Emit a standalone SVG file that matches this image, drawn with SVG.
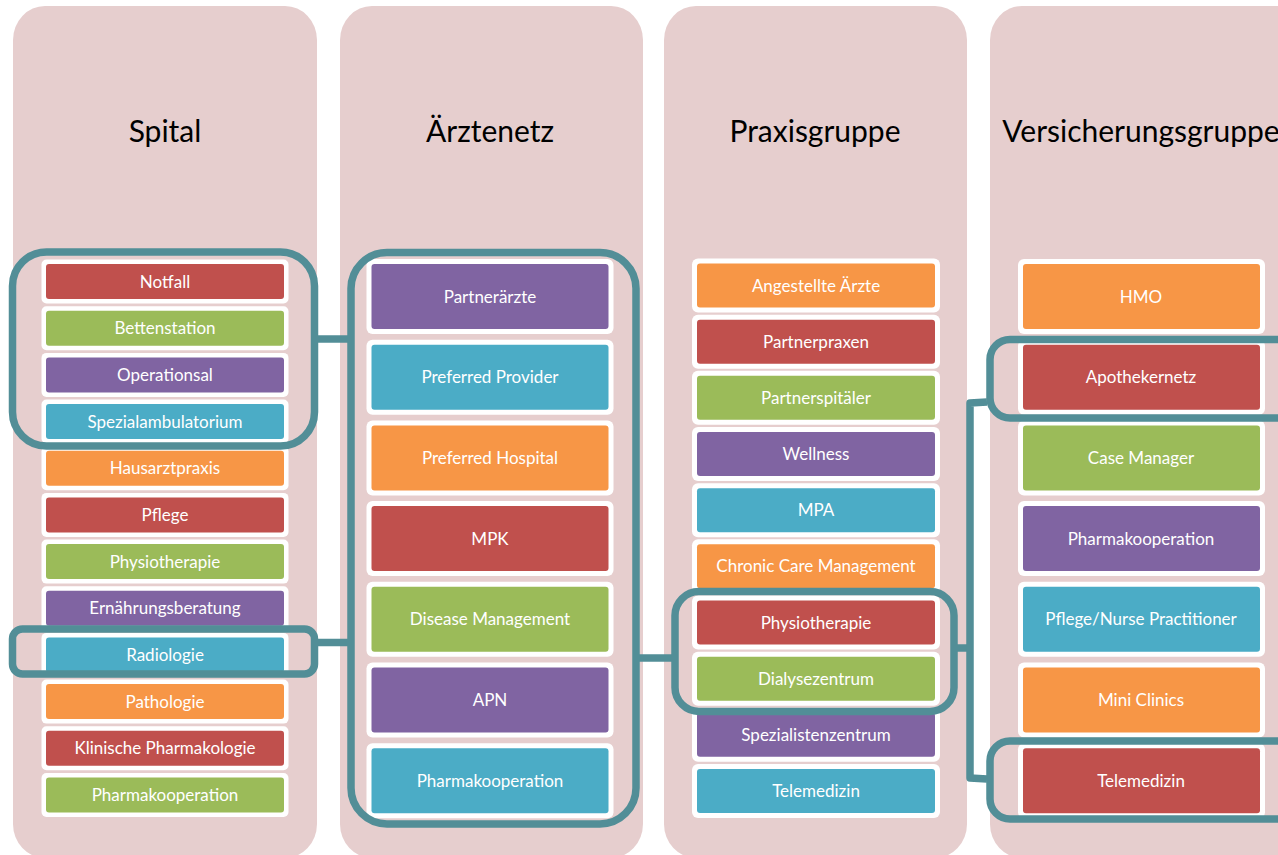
<svg xmlns="http://www.w3.org/2000/svg" width="1278" height="855" viewBox="0 0 1278 855">
<style>
.col{fill:#E6CECE}
.hd{font-family:Lato,"Liberation Sans",sans-serif;font-size:30px;fill:#000;text-anchor:middle}
.wb{fill:#FFFFFF}
.r{fill:#C0504D}.g{fill:#9BBB59}.p{fill:#8064A2}.b{fill:#4BACC6}.o{fill:#F79646}
.t{font-family:Lato,"Liberation Sans",sans-serif;font-size:17px;fill:#FFFFFF;text-anchor:middle}
.hl{fill:none;stroke:#528E97;stroke-width:7.5}
.cn{fill:none;stroke:#528E97;stroke-width:7.5;stroke-linejoin:round}
</style>
<rect width="1278" height="855" fill="#FFFFFF"/>
<g id="columns">
<rect class="col" x="13" y="6" width="304" height="852" rx="32" ry="34"/>
<rect class="col" x="340" y="6" width="303" height="852" rx="32" ry="34"/>
<rect class="col" x="664" y="6" width="303" height="852" rx="32" ry="34"/>
<rect class="col" x="990" y="6" width="330" height="852" rx="32" ry="34"/>
<text class="hd" x="165" y="142">Spital</text>
<text class="hd" x="490" y="142">Ärztenetz</text>
<text class="hd" x="815" y="142">Praxisgruppe</text>
<text class="hd" x="1141" y="142">Versicherungsgruppe</text>
</g>
<g id="spital">
<g id="s1"><rect class="wb" x="41.5" y="259.5" width="247" height="44" rx="5"/><rect class="r" x="46" y="264" width="238" height="35" rx="3"/><text class="t" x="165" y="287.5">Notfall</text></g>
<g id="s2"><rect class="wb" x="41.5" y="306.2" width="247" height="44" rx="5"/><rect class="g" x="46" y="310.7" width="238" height="35" rx="3"/><text class="t" x="165" y="334.2">Bettenstation</text></g>
<g id="s3"><rect class="wb" x="41.5" y="352.9" width="247" height="44" rx="5"/><rect class="p" x="46" y="357.4" width="238" height="35" rx="3"/><text class="t" x="165" y="380.9">Operationsal</text></g>
<g id="s4"><rect class="wb" x="41.5" y="399.5" width="247" height="44" rx="5"/><rect class="b" x="46" y="404" width="238" height="35" rx="3"/><text class="t" x="165" y="427.5">Spezialambulatorium</text></g>
<g id="s5"><rect class="wb" x="41.5" y="446.2" width="247" height="44" rx="5"/><rect class="o" x="46" y="450.7" width="238" height="35" rx="3"/><text class="t" x="165" y="474.2">Hausarztpraxis</text></g>
<g id="s6"><rect class="wb" x="41.5" y="492.9" width="247" height="44" rx="5"/><rect class="r" x="46" y="497.4" width="238" height="35" rx="3"/><text class="t" x="165" y="520.9">Pflege</text></g>
<g id="s7"><rect class="wb" x="41.5" y="539.6" width="247" height="44" rx="5"/><rect class="g" x="46" y="544.1" width="238" height="35" rx="3"/><text class="t" x="165" y="567.6">Physiotherapie</text></g>
<g id="s8"><rect class="wb" x="41.5" y="586.3" width="247" height="44" rx="5"/><rect class="p" x="46" y="590.8" width="238" height="35" rx="3"/><text class="t" x="165" y="614.3">Ernährungsberatung</text></g>
<g id="s9"><rect class="wb" x="41.5" y="632.9" width="247" height="44" rx="5"/><rect class="b" x="46" y="637.4" width="238" height="35" rx="3"/><text class="t" x="165" y="660.9">Radiologie</text></g>
<g id="s10"><rect class="wb" x="41.5" y="679.6" width="247" height="44" rx="5"/><rect class="o" x="46" y="684.1" width="238" height="35" rx="3"/><text class="t" x="165" y="707.6">Pathologie</text></g>
<g id="s11"><rect class="wb" x="41.5" y="726.3" width="247" height="44" rx="5"/><rect class="r" x="46" y="730.8" width="238" height="35" rx="3"/><text class="t" x="165" y="754.3">Klinische Pharmakologie</text></g>
<g id="s12"><rect class="wb" x="41.5" y="773" width="247" height="44" rx="5"/><rect class="g" x="46" y="777.5" width="238" height="35" rx="3"/><text class="t" x="165" y="801">Pharmakooperation</text></g>
</g>
<g id="aerztenetz">
<g id="a1"><rect class="wb" x="366.5" y="259" width="247" height="75" rx="6"/><rect class="p" x="371.5" y="264" width="237" height="65" rx="3"/><text class="t" x="490" y="302.5">Partnerärzte</text></g>
<g id="a2"><rect class="wb" x="366.5" y="339.7" width="247" height="75" rx="6"/><rect class="b" x="371.5" y="344.7" width="237" height="65" rx="3"/><text class="t" x="490" y="383.2">Preferred Provider</text></g>
<g id="a3"><rect class="wb" x="366.5" y="420.4" width="247" height="75" rx="6"/><rect class="o" x="371.5" y="425.4" width="237" height="65" rx="3"/><text class="t" x="490" y="463.9">Preferred Hospital</text></g>
<g id="a4"><rect class="wb" x="366.5" y="501.1" width="247" height="75" rx="6"/><rect class="r" x="371.5" y="506.1" width="237" height="65" rx="3"/><text class="t" x="490" y="544.6">MPK</text></g>
<g id="a5"><rect class="wb" x="366.5" y="581.8" width="247" height="75" rx="6"/><rect class="g" x="371.5" y="586.8" width="237" height="65" rx="3"/><text class="t" x="490" y="625.3">Disease Management</text></g>
<g id="a6"><rect class="wb" x="366.5" y="662.5" width="247" height="75" rx="6"/><rect class="p" x="371.5" y="667.5" width="237" height="65" rx="3"/><text class="t" x="490" y="706">APN</text></g>
<g id="a7"><rect class="wb" x="366.5" y="743.2" width="247" height="75" rx="6"/><rect class="b" x="371.5" y="748.2" width="237" height="65" rx="3"/><text class="t" x="490" y="786.7">Pharmakooperation</text></g>
</g>
<g id="praxisgruppe">
<g id="p1"><rect class="wb" x="692" y="258.5" width="248" height="54" rx="6"/><rect class="o" x="697" y="263.5" width="238" height="44" rx="3"/><text class="t" x="816" y="291.5">Angestellte Ärzte</text></g>
<g id="p2"><rect class="wb" x="692" y="314.7" width="248" height="54" rx="6"/><rect class="r" x="697" y="319.7" width="238" height="44" rx="3"/><text class="t" x="816" y="347.7">Partnerpraxen</text></g>
<g id="p3"><rect class="wb" x="692" y="370.8" width="248" height="54" rx="6"/><rect class="g" x="697" y="375.8" width="238" height="44" rx="3"/><text class="t" x="816" y="403.8">Partnerspitäler</text></g>
<g id="p4"><rect class="wb" x="692" y="427" width="248" height="54" rx="6"/><rect class="p" x="697" y="432" width="238" height="44" rx="3"/><text class="t" x="816" y="460">Wellness</text></g>
<g id="p5"><rect class="wb" x="692" y="483.2" width="248" height="54" rx="6"/><rect class="b" x="697" y="488.2" width="238" height="44" rx="3"/><text class="t" x="816" y="516.2">MPA</text></g>
<g id="p6"><rect class="wb" x="692" y="539.3" width="248" height="54" rx="6"/><rect class="o" x="697" y="544.3" width="238" height="44" rx="3"/><text class="t" x="816" y="572.3">Chronic Care Management</text></g>
<g id="p7"><rect class="wb" x="692" y="595.5" width="248" height="54" rx="6"/><rect class="r" x="697" y="600.5" width="238" height="44" rx="3"/><text class="t" x="816" y="628.5">Physiotherapie</text></g>
<g id="p8"><rect class="wb" x="692" y="651.7" width="248" height="54" rx="6"/><rect class="g" x="697" y="656.7" width="238" height="44" rx="3"/><text class="t" x="816" y="684.7">Dialysezentrum</text></g>
<g id="p9"><rect class="wb" x="692" y="707.8" width="248" height="54" rx="6"/><rect class="p" x="697" y="712.8" width="238" height="44" rx="3"/><text class="t" x="816" y="740.8">Spezialistenzentrum</text></g>
<g id="p10"><rect class="wb" x="692" y="764" width="248" height="54" rx="6"/><rect class="b" x="697" y="769" width="238" height="44" rx="3"/><text class="t" x="816" y="797">Telemedizin</text></g>
</g>
<g id="versicherungsgruppe">
<g id="v1"><rect class="wb" x="1018" y="259" width="247" height="75" rx="6"/><rect class="o" x="1023" y="264" width="237" height="65" rx="3"/><text class="t" x="1141" y="302.5">HMO</text></g>
<g id="v2"><rect class="wb" x="1018" y="339.7" width="247" height="75" rx="6"/><rect class="r" x="1023" y="344.7" width="237" height="65" rx="3"/><text class="t" x="1141" y="383.2">Apothekernetz</text></g>
<g id="v3"><rect class="wb" x="1018" y="420.4" width="247" height="75" rx="6"/><rect class="g" x="1023" y="425.4" width="237" height="65" rx="3"/><text class="t" x="1141" y="463.9">Case Manager</text></g>
<g id="v4"><rect class="wb" x="1018" y="501.1" width="247" height="75" rx="6"/><rect class="p" x="1023" y="506.1" width="237" height="65" rx="3"/><text class="t" x="1141" y="544.6">Pharmakooperation</text></g>
<g id="v5"><rect class="wb" x="1018" y="581.8" width="247" height="75" rx="6"/><rect class="b" x="1023" y="586.8" width="237" height="65" rx="3"/><text class="t" x="1141" y="625.3">Pflege/Nurse Practitioner</text></g>
<g id="v6"><rect class="wb" x="1018" y="662.5" width="247" height="75" rx="6"/><rect class="o" x="1023" y="667.5" width="237" height="65" rx="3"/><text class="t" x="1141" y="706">Mini Clinics</text></g>
<g id="v7"><rect class="wb" x="1018" y="743.2" width="247" height="75" rx="6"/><rect class="r" x="1023" y="748.2" width="237" height="65" rx="3"/><text class="t" x="1141" y="786.7">Telemedizin</text></g>
</g>
<g id="highlights">
<rect id="h-spital-top" class="hl" x="12.5" y="252" width="302" height="194" rx="34"/>
<rect id="h-radiologie" class="hl" x="12.5" y="629" width="302" height="45" rx="10"/>
<rect id="h-aerztenetz" class="hl" x="351" y="252.5" width="285" height="571.5" rx="36"/>
<rect id="h-praxis" class="hl" x="675" y="591.5" width="279" height="120" rx="24"/>
<rect id="h-apotheke" class="hl" x="990" y="339.5" width="320" height="78.5" rx="20"/>
<rect id="h-telemed" class="hl" x="990" y="741" width="320" height="78" rx="20"/>
</g>
<g id="connectors">
<path class="cn" d="M318,339 H348"/>
<path class="cn" d="M318,642.5 H348"/>
<path class="cn" d="M639,658 H672"/>
<path class="cn" d="M957,648 H970"/>
<path class="cn" d="M987,402 L970,403 V778 L987,779"/>
</g>
</svg>
